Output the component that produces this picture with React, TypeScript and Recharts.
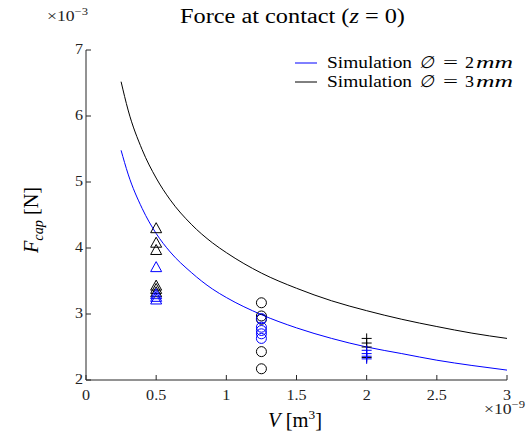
import React from "react";
import { ComposedChart, Line, Scatter, XAxis, YAxis } from "recharts";

// volume (x 1e-9 m^3) and capillary force (x 1e-3 N)
const curveV = [0.25, 0.3, 0.4, 0.5, 0.6, 0.75, 0.9, 1.0, 1.25, 1.5, 1.75, 2, 2.25, 2.5, 2.75, 3];
const curve2mm = [5.48, 5.12, 4.6, 4.22, 3.94, 3.63, 3.38, 3.25, 2.99, 2.79, 2.63, 2.5, 2.4, 2.3, 2.22, 2.15];
const curve3mm = [6.52, 6.09, 5.49, 5.06, 4.73, 4.36, 4.08, 3.93, 3.62, 3.39, 3.2, 3.05, 2.92, 2.81, 2.71, 2.63];

const triV = 0.5;
const tri3mm = [4.3, 4.08, 3.97, 3.43, 3.38, 3.33];
const tri2mm = [3.71, 3.3, 3.26, 3.22];

const circV = 1.25;
const circ3mm = [3.17, 2.97, 2.92, 2.43, 2.17];
const circ2mm = [2.93, 2.8, 2.75, 2.7, 2.63];

const plusV = 2;
const plus3mm = [2.63, 2.56, 2.5, 2.34];
const plus2mm = [2.45, 2.4, 2.36, 2.32];

const xTicks = [0, 0.5, 1, 1.5, 2, 2.5, 3];
const yTicks = [2, 3, 4, 5, 6, 7];

const BLUE = "#0000ff";
const BLACK = "#000000";
const AXIS = "#262626";
const FONT = '"Liberation Serif", "DejaVu Serif", serif';

const W = 529;
const H = 435;
const PLOT_LEFT = 86;
const PLOT_RIGHT = 507;
const PLOT_TOP = 50;
const PLOT_BOTTOM = 380;
const SX = 1.15; // the reference text is a bit wider than plain Times

const curve = (vals: number[]) => curveV.map((v, i) => ({ v, f: vals[i] }));
const points = (v: number, vals: number[]) => vals.map((f) => ({ v, f }));

// text stretched horizontally around its anchor
const WideText = ({ x, y, size, anchor = "start", fill = "#000", children }: any) => (
  <text
    transform={`translate(${x} ${y}) scale(${SX} 1)`}
    textAnchor={anchor}
    fontSize={size}
    fill={fill}
    style={{ fontFamily: FONT }}
  >
    {children}
  </text>
);

const triangle = (color: string) => (props: any) => {
  const { cx, cy } = props;
  if (cx == null || cy == null) return <g />;
  const h = 9;
  const w = 11;
  return (
    <polygon
      points={`${cx},${cy - h / 2 - 1} ${cx - w / 2},${cy + h / 2} ${cx + w / 2},${cy + h / 2}`}
      fill="none"
      stroke={color}
      strokeWidth={1}
    />
  );
};

const circle = (color: string) => (props: any) => {
  const { cx, cy } = props;
  if (cx == null || cy == null) return <g />;
  return <circle cx={cx} cy={cy} r={5} fill="none" stroke={color} strokeWidth={1} />;
};

const plus = (color: string) => (props: any) => {
  const { cx, cy } = props;
  if (cx == null || cy == null) return <g />;
  return (
    <g stroke={color} strokeWidth={1}>
      <line x1={cx - 5} y1={cy} x2={cx + 5} y2={cy} />
      <line x1={cx} y1={cy - 5} x2={cx} y2={cy + 5} />
    </g>
  );
};

const XTick = (props: any) => {
  const { x, payload } = props;
  return (
    <g>
      <line x1={x} y1={PLOT_BOTTOM} x2={x} y2={PLOT_BOTTOM - 5} stroke={AXIS} />
      <WideText x={x} y={400} size={14} anchor="middle" fill="#222">
        {payload.value}
      </WideText>
    </g>
  );
};

const YTick = (props: any) => {
  const { y, payload } = props;
  return (
    <g>
      <line x1={PLOT_LEFT} y1={y} x2={PLOT_LEFT + 5} y2={y} stroke={AXIS} />
      <WideText x={83} y={y + 4} size={14} anchor="end" fill="#222">
        {payload.value}
      </WideText>
    </g>
  );
};

const LegendRow = ({ y, color, size }: { y: number; color: string; size: string }) => (
  <g style={{ fontFamily: FONT }} fontSize={17}>
    <line x1={295} y1={y - 5} x2={317} y2={y - 5} stroke={color} strokeWidth={1} />
    <text x={327} y={y} textLength={85} lengthAdjust="spacingAndGlyphs">Simulation</text>
    <text x={419} y={y} textLength={15} lengthAdjust="spacingAndGlyphs" fontStyle="italic">∅</text>
    <text x={443} y={y} textLength={15} lengthAdjust="spacingAndGlyphs">=</text>
    <text x={465} y={y} textLength={9} lengthAdjust="spacingAndGlyphs">{size}</text>
    <text x={476} y={y} textLength={37} lengthAdjust="spacingAndGlyphs" fontStyle="italic">mm</text>
  </g>
);

export default function App() {
  return (
    <div style={{ position: "absolute", left: 0, top: 0, width: W, height: H, background: "#fff" }}>
      <ComposedChart
        width={W}
        height={H}
        margin={{ top: PLOT_TOP, right: W - PLOT_RIGHT, bottom: 0, left: 0 }}
      >
        <XAxis
          type="number"
          dataKey="v"
          domain={[0, 3]}
          ticks={xTicks}
          allowDataOverflow
          height={H - PLOT_BOTTOM}
          stroke={AXIS}
          tickLine={false}
          tickSize={0}
          tickMargin={0}
          tick={<XTick />}
          interval={0}
        />
        <YAxis
          type="number"
          dataKey="f"
          domain={[2, 7]}
          ticks={yTicks}
          allowDataOverflow
          width={PLOT_LEFT}
          stroke={AXIS}
          tickLine={false}
          tickSize={0}
          tickMargin={0}
          tick={<YTick />}
          interval={0}
        />
        <Line data={curve(curve2mm)} dataKey="f" type="monotone" stroke={BLUE} strokeWidth={1} dot={false} isAnimationActive={false} />
        <Line data={curve(curve3mm)} dataKey="f" type="monotone" stroke={BLACK} strokeWidth={1} dot={false} isAnimationActive={false} />
        <Scatter data={points(triV, tri3mm)} dataKey="f" shape={triangle(BLACK)} isAnimationActive={false} />
        <Scatter data={points(triV, tri2mm)} dataKey="f" shape={triangle(BLUE)} isAnimationActive={false} />
        <Scatter data={points(circV, circ3mm)} dataKey="f" shape={circle(BLACK)} isAnimationActive={false} />
        <Scatter data={points(circV, circ2mm)} dataKey="f" shape={circle(BLUE)} isAnimationActive={false} />
        <Scatter data={points(plusV, plus3mm)} dataKey="f" shape={plus(BLACK)} isAnimationActive={false} />
        <Scatter data={points(plusV, plus2mm)} dataKey="f" shape={plus(BLUE)} isAnimationActive={false} />
      </ComposedChart>

      <svg
        width={W}
        height={H}
        style={{ position: "absolute", left: 0, top: 0, pointerEvents: "none", fontFamily: FONT }}
        fill="#000"
      >
        <text x={180} y={23} fontSize={20} textLength={225} lengthAdjust="spacingAndGlyphs">
          Force at contact (<tspan fontStyle="italic">z</tspan> = 0)
        </text>
        <text x={47} y={21} fontSize={14} fill="#222" textLength={41} lengthAdjust="spacingAndGlyphs">
          ×10<tspan dy={-6} fontSize={10}>−3</tspan>
        </text>
        <text x={484} y={414} fontSize={14} fill="#222" textLength={41} lengthAdjust="spacingAndGlyphs">
          ×10<tspan dy={-6} fontSize={10}>−9</tspan>
        </text>

        <LegendRow y={68} color={BLUE} size="2" />
        <LegendRow y={87} color={BLACK} size="3" />

        {/* axis labels */}
        <text x={268} y={427} fontSize={20} textLength={54} lengthAdjust="spacingAndGlyphs">
          <tspan fontStyle="italic">V</tspan> [m<tspan dy={-8} fontSize={13}>3</tspan>
          <tspan dy={8}>]</tspan>
        </text>
        <text
          x={38}
          y={253}
          fontSize={20}
          transform="rotate(-90 38 253)"
          textLength={66}
          lengthAdjust="spacingAndGlyphs"
        >
          <tspan fontStyle="italic">F</tspan>
          <tspan fontStyle="italic" fontSize={14} dy={5}>cap</tspan>
          <tspan dy={-5}> [N]</tspan>
        </text>
      </svg>
    </div>
  );
}
